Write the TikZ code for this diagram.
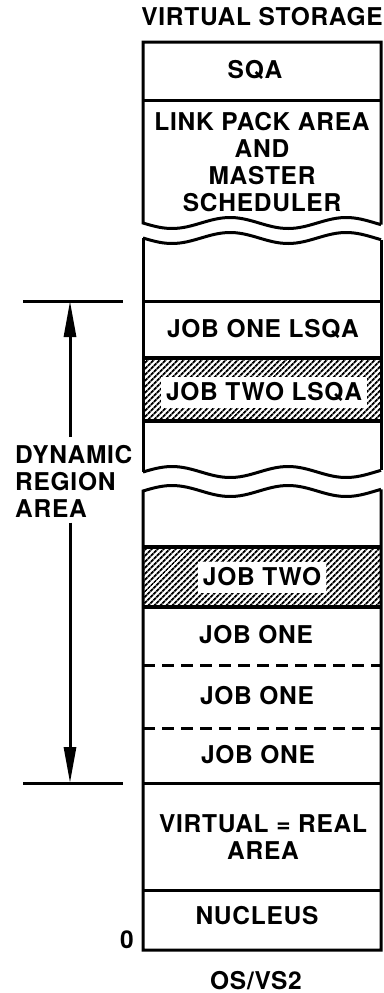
\documentclass[tikz,border=0pt]{standalone}
\usepackage{fontspec}
\setmainfont{TeX Gyre Heros}[LetterSpace=3]
\usetikzlibrary{arrows.meta,patterns.meta}

\begin{document}
\begin{tikzpicture}[x=1pt,y=-1pt,
  lbl/.style={font=\bfseries\fontsize{24.5}{27}\selectfont,inner sep=0pt,text height=17pt,text depth=0pt},
  multi/.style={font=\bfseries\fontsize{24.5}{27}\selectfont,inner sep=0pt,align=center},
  tag/.style={lbl,fill=white,inner xsep=5pt,inner ysep=7pt},
  wall/.style={line width=3pt},
  hatch/.style={pattern={Lines[angle=45,distance=4pt,line width=2pt]}},
  arr/.style={wall,-{Triangle[length=36pt,width=12pt]}},
  declare function={wv(\t,\p)=5.5*sin(3.1*(\t-143)+\p);}]
  \useasboundingbox (0,0) rectangle (383,993);
  \node[lbl] (title) at (262,17) {VIRTUAL STORAGE};
  % shaded areas of job two
  \fill[hatch] (143,358) rectangle (381,421);
  \fill[hatch] (143,547) rectangle (381,607);
  % column, broken twice
  \draw[wall] (381,{223+wv(381,0)}) -- (381,42) -- (143,42) -- (143,223)
    -- plot[domain=143:381,samples=60] (\x,{223+wv(\x,0)});
  \draw[wall] plot[domain=143:381,samples=60] (\x,{238+wv(\x,0)});
  \draw[wall] (143,238) -- (143,{472+wv(143,180)});
  \draw[wall] (381,{238+wv(381,0)}) -- (381,{472+wv(381,180)});
  \draw[wall] plot[domain=143:381,samples=60] (\x,{472+wv(\x,180)});
  \draw[wall] (381,{491+wv(381,180)}) -- (381,950) -- (143,950) -- (143,491)
    -- plot[domain=143:381,samples=60] (\x,{491+wv(\x,180)});
  \draw[wall] (143,100) -- (381,100);
  \draw[wall] (143,301) -- (381,301);
  \draw[line width=3.5pt] (143,358) -- (381,358);
  \draw[line width=3.5pt] (143,421) -- (381,421);
  \draw[line width=3.5pt] (143,547) -- (381,547);
  \draw[line width=3.5pt] (143,607) -- (381,607);
  \draw[wall,dash pattern=on 12pt off 7pt] (143,665) -- (381,665);
  \draw[wall,dash pattern=on 12pt off 7pt] (143,728) -- (381,728);
  \draw[wall] (143,783) -- (381,783);
  \draw[wall] (143,890) -- (381,890);
  % texts in the column
  \node[lbl] (sqa) at (255,70) {SQA};
  \node[multi,anchor=north] (lpa) at (262,112) {LINK PACK AREA\\AND\\MASTER\\SCHEDULER};
  \node[lbl] (onelsqa) at (263,329) {JOB ONE LSQA};
  \node[tag] (twolsqa) at (264,392) {JOB TWO LSQA};
  \node[tag] (jobtwo) at (262,577) {JOB TWO};
  \node[lbl] (jobonea) at (256,635) {JOB ONE};
  \node[lbl] (joboneb) at (257,696) {JOB ONE};
  \node[lbl] (jobonec) at (258,755) {JOB ONE};
  \node[multi,anchor=north] (vreal) at (263,814) {VIRTUAL = REAL\\AREA};
  \node[lbl] (nucleus) at (257,916) {NUCLEUS};
  \node[lbl] (zero) at (127,940) {0};
  \node[lbl] (osvs) at (256,981) {OS/VS2};
  % dynamic region marker
  \coordinate (dimtop) at (70,301);
  \coordinate (dimbot) at (70,783);
  \draw[wall] (23,301) -- (123,301);
  \draw[wall] (23,783) -- (123,783);
  \node[multi,align=left,anchor=north west] (dra) at (15,445) {DYNAMIC\\REGION\\AREA};
  \draw[arr] ([yshift=8pt]dra.north -| dimtop) -- (dimtop);
  \draw[arr] ([yshift=-5pt]dra.south -| dimbot) -- (dimbot);
\end{tikzpicture}
\end{document}
